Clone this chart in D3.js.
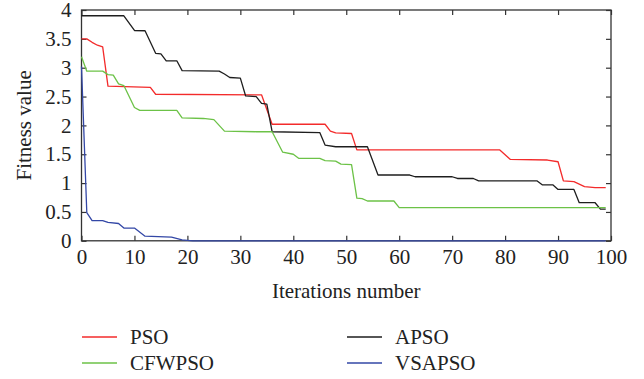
<!DOCTYPE html>
<html>
<head>
<meta charset="utf-8">
<script src="https://cdn.jsdelivr.net/npm/d3@7/dist/d3.min.js"></script>
<style>
  html, body { margin: 0; padding: 0; background: #fff; }
  svg { display: block; }
  text { font-family: "Liberation Serif", "DejaVu Serif", "Noto Serif", serif; fill: #222; }
</style>
</head>
<body>
<svg id="chart" width="644" height="379"></svg>
<script>
// Best fitness per iteration for each optimiser, as [iteration, fitness] breakpoints
const pso = [[0,3.5],[1,3.5],[2,3.44],[3,3.39],[4,3.36],[5,2.68],[13,2.66],[14,2.54],[34,2.53],[36,2.02],[46,2.02],[47,1.9],[48,1.87],[51,1.86],[52,1.575],[79,1.575],[81,1.41],[88,1.40],[90,1.37],[91,1.04],[93,1.025],[95,0.94],[97,0.92],[99,0.92]];
const apso = [[0,3.9],[8,3.9],[10,3.645],[12,3.64],[14,3.25],[15,3.24],[16,3.12],[18,3.12],[19,2.95],[26,2.94],[27,2.89],[28,2.83],[30,2.82],[31,2.51],[33,2.5],[34,2.38],[35,2.37],[36,1.89],[45,1.875],[46,1.66],[48,1.63],[54,1.63],[56,1.14],[62,1.14],[63,1.11],[70,1.11],[71,1.08],[74,1.08],[75,1.04],[86,1.04],[87,0.97],[89,0.97],[90,0.89],[93,0.89],[94,0.66],[97,0.66],[98,0.55],[99,0.55]];
const cfwpso = [[0,3.19],[1,2.94],[4,2.94],[5,2.88],[6,2.87],[7,2.72],[8,2.69],[10,2.31],[11,2.26],[18,2.26],[19,2.13],[23,2.12],[25,2.1],[27,1.9],[33,1.89],[36,1.89],[38,1.535],[40,1.5],[41,1.43],[45,1.43],[46,1.39],[48,1.38],[49,1.33],[51,1.32],[52,0.74],[53,0.73],[54,0.69],[59,0.69],[60,0.575],[99,0.575]];
const vsapso = [[0,3.02],[1,0.49],[2,0.35],[4,0.35],[5,0.32],[7,0.30],[8,0.22],[10,0.22],[12,0.08],[17,0.065],[19,0.015],[21,0],[99,0]];

const xTicks = [0,10,20,30,40,50,60,70,80,90,100];
const yTicks = [0,0.5,1,1.5,2,2.5,3,3.5,4];
const seriesNames = ["PSO","APSO","CFWPSO","VSAPSO"];
const seriesColors = ["#f32b2b","#1e1e1e","#6cc247","#3347a6"];
const seriesData = [pso, apso, cfwpso, vsapso];

const svg = d3.select("#chart");
const plotLeft = 81.5, plotRight = 611, plotTop = 10, plotBottom = 240.8;

const x = d3.scaleLinear().domain([0,100]).range([plotLeft,plotRight]);
const y = d3.scaleLinear().domain([0,4]).range([plotBottom,plotTop]);

const axisColor = "#333";
const fontSize = 21;
const serif = "'Liberation Serif', 'DejaVu Serif', 'Noto Serif', serif";

// Frame
svg.append("rect")
  .attr("x",plotLeft).attr("y",plotTop)
  .attr("width",plotRight-plotLeft).attr("height",plotBottom-plotTop)
  .attr("fill","none").attr("stroke",axisColor).attr("stroke-width",1.3);

// Axes with inward ticks on all four sides
function styleAxis(g) {
  g.attr("font-family", serif);
  g.select(".domain").remove();
  g.selectAll(".tick line").attr("stroke",axisColor).attr("stroke-width",1.2);
  g.selectAll(".tick text").attr("font-size",fontSize).attr("fill","#222")
    .style("font-family",serif);
}

svg.append("g").attr("transform",`translate(0,${plotBottom})`)
  .call(d3.axisBottom(x).tickValues(xTicks).tickSize(-5).tickPadding(8).tickFormat(d3.format("d")))
  .call(styleAxis);
svg.append("g").attr("transform",`translate(0,${plotTop})`)
  .call(d3.axisTop(x).tickValues(xTicks).tickSize(-5).tickFormat(""))
  .call(styleAxis);
svg.append("g").attr("transform",`translate(${plotLeft},0)`)
  .call(d3.axisLeft(y).tickValues(yTicks).tickSize(-5).tickPadding(10).tickFormat(d => String(d)))
  .call(styleAxis);
svg.append("g").attr("transform",`translate(${plotRight},0)`)
  .call(d3.axisRight(y).tickValues(yTicks).tickSize(-5).tickFormat(""))
  .call(styleAxis);

// Series lines, drawn over the frame
const line = d3.line().x(d => x(d[0])).y(d => y(d[1]));
seriesData.forEach((data,i) => {
  svg.append("path")
    .datum(data)
    .attr("fill","none")
    .attr("stroke",seriesColors[i])
    .attr("stroke-width",1.3)
    .attr("stroke-linejoin","round")
    .attr("d",line);
});

// Axis titles
svg.append("text")
  .attr("x",(plotLeft+plotRight)/2).attr("y",298)
  .attr("text-anchor","middle").attr("font-size",fontSize)
  .style("font-family",serif)
  .text("Iterations number");
svg.append("text")
  .attr("transform",`translate(31,${(plotTop+plotBottom)/2}) rotate(-90)`)
  .attr("text-anchor","middle").attr("font-size",fontSize)
  .style("font-family",serif)
  .text("Fitness value");

// Legend: two columns, row-major
const legendX = [82, 347];
const legendY = [337, 363];
seriesNames.forEach((name,i) => {
  const col = i % 2, row = Math.floor(i / 2);
  const g = svg.append("g").attr("transform",`translate(${legendX[col]},${legendY[row]})`);
  g.append("line").attr("x1",0).attr("x2",35).attr("y1",0).attr("y2",0)
    .attr("stroke",seriesColors[i]).attr("stroke-width",1.3);
  g.append("text").attr("x",48).attr("y",0).attr("dy","0.35em")
    .attr("font-size",fontSize).style("font-family",serif).text(name);
});
</script>
</body>
</html>
